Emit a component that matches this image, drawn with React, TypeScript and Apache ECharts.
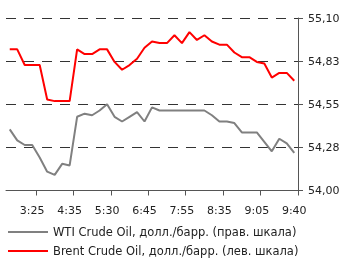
import React, { useEffect, useRef } from 'react';
import * as echarts from 'echarts';

// Category labels (only every fifth time is printed on the chart)
const timeLabels: string[] = [
  '', '', '', '3:25', '', '', '', '', '4:35', '',
  '', '', '', '5:30', '', '', '', '', '6:45', '',
  '', '', '', '7:55', '', '', '', '', '8:35', '',
  '', '', '', '9:05', '', '', '', '', '9:40',
];

// WTI Crude Oil, USD/bbl (right scale)
const wtiValues: number[] = [
  54.39, 54.32, 54.29, 54.29, 54.21, 54.12, 54.10, 54.17, 54.16, 54.47,
  54.49, 54.48, 54.51, 54.55, 54.47, 54.44, 54.47, 54.50, 54.44, 54.53,
  54.51, 54.51, 54.51, 54.51, 54.51, 54.51, 54.51, 54.48, 54.44, 54.44,
  54.43, 54.37, 54.37, 54.37, 54.31, 54.25, 54.33, 54.30, 54.24,
];

// Brent Crude Oil, USD/bbl (left scale)
const brentValues: number[] = [
  54.90, 54.90, 54.80, 54.80, 54.80, 54.58, 54.57, 54.57, 54.57, 54.90,
  54.87, 54.87, 54.90, 54.90, 54.82, 54.77, 54.80, 54.84, 54.91, 54.95,
  54.94, 54.94, 54.99, 54.94, 55.01, 54.96, 54.99, 54.95, 54.93, 54.93,
  54.88, 54.85, 54.85, 54.82, 54.81, 54.72, 54.75, 54.75, 54.70,
];

const seriesNames = [
  'WTI Crude Oil, долл./барр. (прав. шкала)',
  'Brent Crude Oil, долл./барр. (лев. шкала)',
];

const yMin = 54.0;
const yMax = 55.1;
const yInterval = 0.275;

const FONT = 'DejaVu Sans';
const TEXT_COLOR = '#222';
const AXIS_COLOR = '#555';

export default function App() {
  const ref = useRef<HTMLDivElement>(null);

  useEffect(() => {
    if (!ref.current) return;
    const chart = echarts.init(ref.current, undefined, { renderer: 'svg' });
    const fmt = (v: number) =>
      (Math.round(v * 100 + 1e-6) / 100).toFixed(2).replace('.', ',');

    chart.setOption({
      animation: false,
      textStyle: { fontFamily: FONT },
      grid: { left: 6, right: 45, top: 18, bottom: 67.5, containLabel: false },
      legend: {
        orient: 'vertical',
        left: 8,
        top: 226,
        height: 40,
        icon: 'rect',
        itemWidth: 40,
        itemHeight: 2,
        itemGap: 7,
        padding: 0,
        textStyle: { fontFamily: FONT, fontSize: 11.5, color: TEXT_COLOR, lineHeight: 12 },
        data: seriesNames,
      },
      xAxis: {
        type: 'category',
        boundaryGap: true,
        data: timeLabels,
        axisLine: { show: true, lineStyle: { color: AXIS_COLOR, width: 1 } },
        axisTick: {
          show: true,
          length: 5,
          interval: (i: number) => i % 5 === 4,
          lineStyle: { color: AXIS_COLOR },
        },
        axisLabel: {
          show: true,
          interval: (i: number) => i % 5 === 3,
          margin: 14,
          fontFamily: FONT,
          fontSize: 11,
          color: TEXT_COLOR,
        },
        splitLine: { show: false },
      },
      yAxis: [
        {
          type: 'value',
          position: 'right',
          min: yMin,
          max: yMax,
          interval: yInterval,
          axisLine: { show: true, lineStyle: { color: AXIS_COLOR, width: 1 } },
          axisTick: { show: true, length: 5, lineStyle: { color: AXIS_COLOR } },
          axisLabel: {
            margin: 10,
            fontFamily: FONT,
            fontSize: 11,
            color: TEXT_COLOR,
            formatter: fmt,
          },
          splitLine: {
            show: true,
            lineStyle: { color: '#333', width: 1, type: [10, 8] },
          },
        },
        {
          type: 'value',
          position: 'left',
          min: yMin,
          max: yMax,
          interval: yInterval,
          show: false,
          splitLine: { show: false },
        },
      ],
      series: [
        {
          name: seriesNames[0],
          type: 'line',
          yAxisIndex: 0,
          data: wtiValues,
          symbol: 'none',
          showSymbol: false,
          lineStyle: { color: '#808080', width: 2 },
          itemStyle: { color: '#808080' },
        },
        {
          name: seriesNames[1],
          type: 'line',
          yAxisIndex: 1,
          data: brentValues,
          symbol: 'none',
          showSymbol: false,
          lineStyle: { color: '#ff0000', width: 2 },
          itemStyle: { color: '#ff0000' },
        },
      ],
    });

    return () => chart.dispose();
  }, []);

  return (
    <div
      ref={ref}
      style={{ position: 'fixed', left: 0, top: 0, width: 343, height: 258 }}
    />
  );
}
